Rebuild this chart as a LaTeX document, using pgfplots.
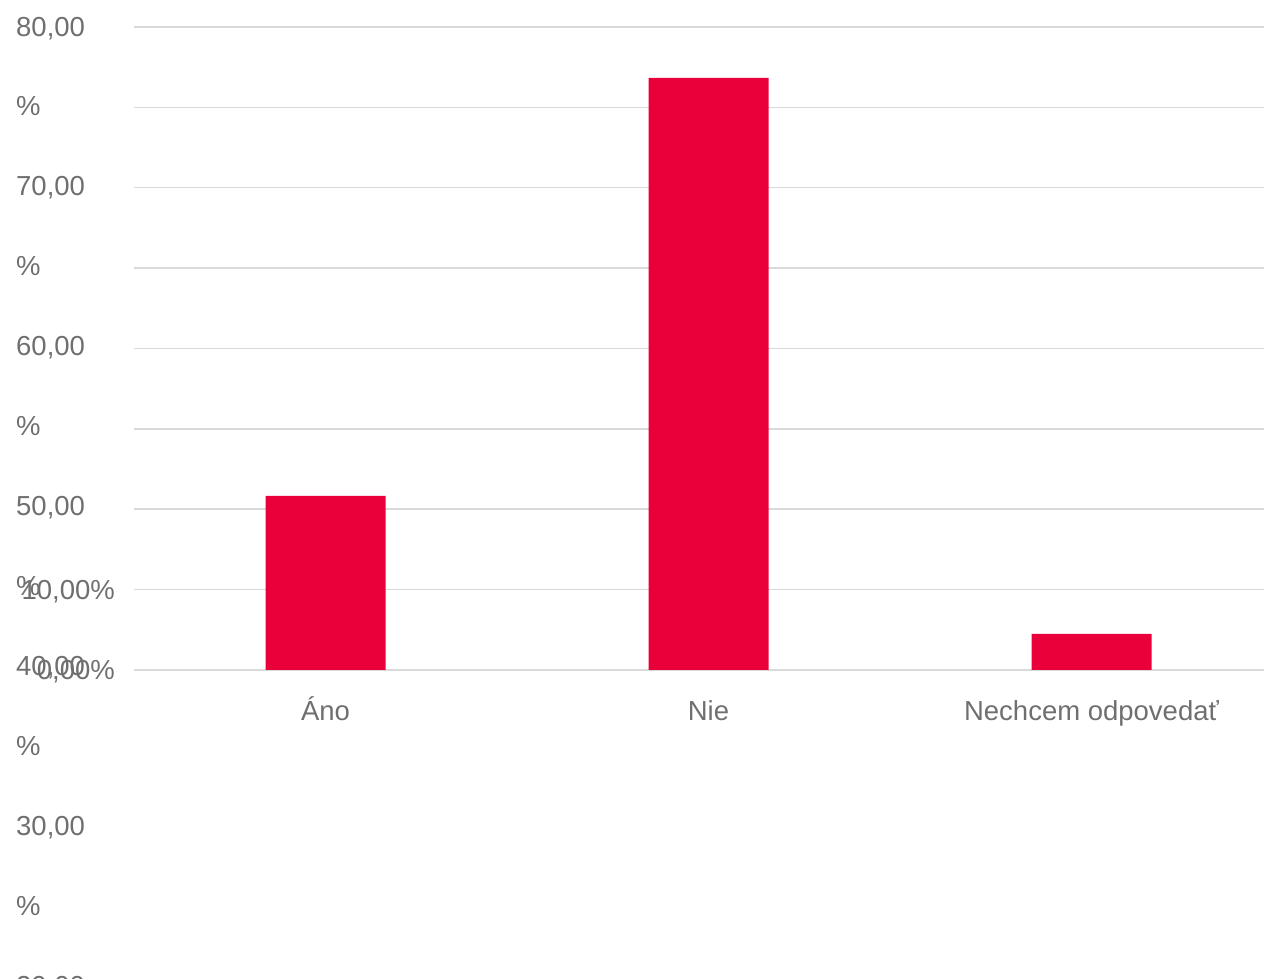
\documentclass[border=0pt]{standalone}
\usepackage{fontspec}
\setmainfont{Liberation Sans}
\usepackage{pgfplots}
\pgfplotsset{compat=1.18}
\definecolor{barred}{HTML}{E9003A}
\definecolor{txtgray}{HTML}{6F6F6F}
\definecolor{gridgray}{HTML}{D9D9D9}
\begin{document}
\begin{tikzpicture}[every node/.style={font=\fontsize{27.5pt}{33pt}\selectfont, text=txtgray},
  wrap/.style={anchor=base west, inner sep=0pt, xshift=-118pt, yshift=-10pt}]
\useasboundingbox (0,0) rectangle (1264pt,979pt);
\begin{axis}[
  at={(134pt,309pt)}, anchor=south west,
  scale only axis, width=1130pt, height=643pt,
  ybar, bar width=120pt,
  xmin=-0.5, xmax=2.4504, ymin=0, ymax=80,
  xtick={0,1,2}, xticklabels={Áno, Nie, Nechcem odpovedať},
  ytick={0,10,...,80},
  yticklabels={{0,00\%}, {10,00\%}, {}, {}, {}, {}, {}, {}, {}},
  xticklabel style={anchor=base, inner sep=0pt, yshift=-46pt},
  yticklabel style={anchor=base east, inner sep=0pt, xshift=-19pt, yshift=-10pt},
  ymajorgrids, grid style={gridgray, line width=1.5pt},
  axis line style={draw=none}, tick style={draw=none},
  clip=false,
]
\addplot[fill=barred, draw=none] coordinates {(0,21.65) (1,73.66) (2,4.48)};
% wrapped value labels that spill down the left side
\node[wrap] at (axis cs:-0.5,80.12) {80,00};
\node[wrap] at (axis cs:-0.5,70.18) {\%};
\node[wrap] at (axis cs:-0.5,60.23) {70,00};
\node[wrap] at (axis cs:-0.5,50.28) {\%};
\node[wrap] at (axis cs:-0.5,40.34) {60,00};
\node[wrap] at (axis cs:-0.5,30.39) {\%};
\node[wrap] at (axis cs:-0.5,20.44) {50,00};
\node[wrap] at (axis cs:-0.5,10.49) {\%};
\node[wrap] at (axis cs:-0.5,0.55) {40,00};
\node[wrap] at (axis cs:-0.5,-9.40) {\%};
\node[wrap] at (axis cs:-0.5,-19.35) {30,00};
\node[wrap] at (axis cs:-0.5,-29.29) {\%};
\node[wrap] at (axis cs:-0.5,-39.24) {20,00};
\end{axis}
\end{tikzpicture}
\end{document}
